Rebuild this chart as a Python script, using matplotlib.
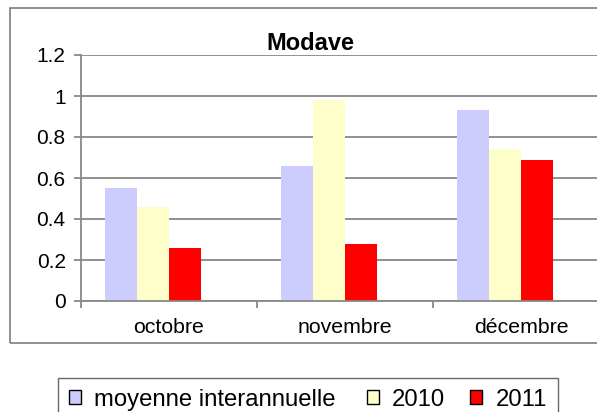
import numpy as np
import matplotlib
matplotlib.use("Agg")
import matplotlib.pyplot as plt
from matplotlib.patches import Rectangle, Patch

plt.rcParams['font.family'] = ['Liberation Sans', 'DejaVu Sans']

months = ['octobre', 'novembre', 'décembre']
series_names = ['moyenne interannuelle', '2010', '2011']
moyenne = [0.55, 0.66, 0.93]
v2010 = [0.46, 0.98, 0.74]
v2011 = [0.26, 0.28, 0.69]
colors = ['#CCCCFF', '#FFFFCC', '#FF0000']
yticks = [0, 0.2, 0.4, 0.6, 0.8, 1, 1.2]
ytick_labels = ['0', '0.2', '0.4', '0.6', '0.8', '1', '1.2']

W, H = 597, 412
fig = plt.figure(figsize=(W / 100, H / 100), dpi=100)

# chart frame (runs past the right edge, like the original export)
frame = Rectangle((10 / W, 1 - 343 / H), 700 / W, 335 / H, transform=fig.transFigure,
                  fill=False, edgecolor='#888888', linewidth=1.3, clip_on=False)
fig.patches.append(frame)

ax = fig.add_axes([81 / W, 1 - 301 / H, 528 / W, 246 / H])

x = np.arange(len(months))
slots = 4  # excel left room for a fourth (empty) series
w = 0.728 / slots
for i, (vals, c) in enumerate(zip([moyenne, v2010, v2011], colors)):
    ax.bar(x + (i - (slots - 1) / 2) * w, vals, width=w, color=c, align='center', zorder=3)

ax.set_xlim(-0.5, len(months) - 0.5)
ax.set_ylim(0, 1.2)
ax.set_yticks(yticks)
ax.set_yticklabels(ytick_labels)
ax.set_xticks(x)
ax.set_xticklabels(months)
ax.set_xticks(np.arange(len(months) + 1) - 0.5, minor=True)
ax.tick_params(axis='x', which='major', length=0, pad=12, labelsize=15.3)
ax.tick_params(axis='x', which='minor', length=5, width=1.3, color='#888888')
ax.tick_params(axis='y', length=5, width=1.3, color='#888888', pad=6, labelsize=15)
ax.yaxis.grid(True, color='#888888', linewidth=1.3, zorder=0)
for s in ['top', 'right']:
    ax.spines[s].set_visible(False)
for s in ['left', 'bottom']:
    ax.spines[s].set_color('#888888')
    ax.spines[s].set_linewidth(1.3)
ax.spines['bottom'].set_zorder(4)

fig.text(310 / W, 1 - 43 / H, 'Modave', ha='center', va='center',
         fontsize=17, fontweight='bold')

# excel leaves a bit more room after the long first entry
labels = [series_names[0] + ' '] + series_names[1:]
handles = [Patch(facecolor=c, edgecolor='black', linewidth=1) for c in colors]
leg = fig.legend(handles, labels, loc='upper left',
                 bbox_to_anchor=(58 / W, 1 - 378 / H), ncol=3, fontsize=17.2,
                 handlelength=0.5, handleheight=0.5, handletextpad=0.55,
                 columnspacing=1.05, borderpad=0.45, borderaxespad=0,
                 frameon=True, fancybox=False)
leg.get_frame().set_edgecolor('#444444')
leg.get_frame().set_linewidth(1.0)

fig.savefig('out.png', dpi=100)
